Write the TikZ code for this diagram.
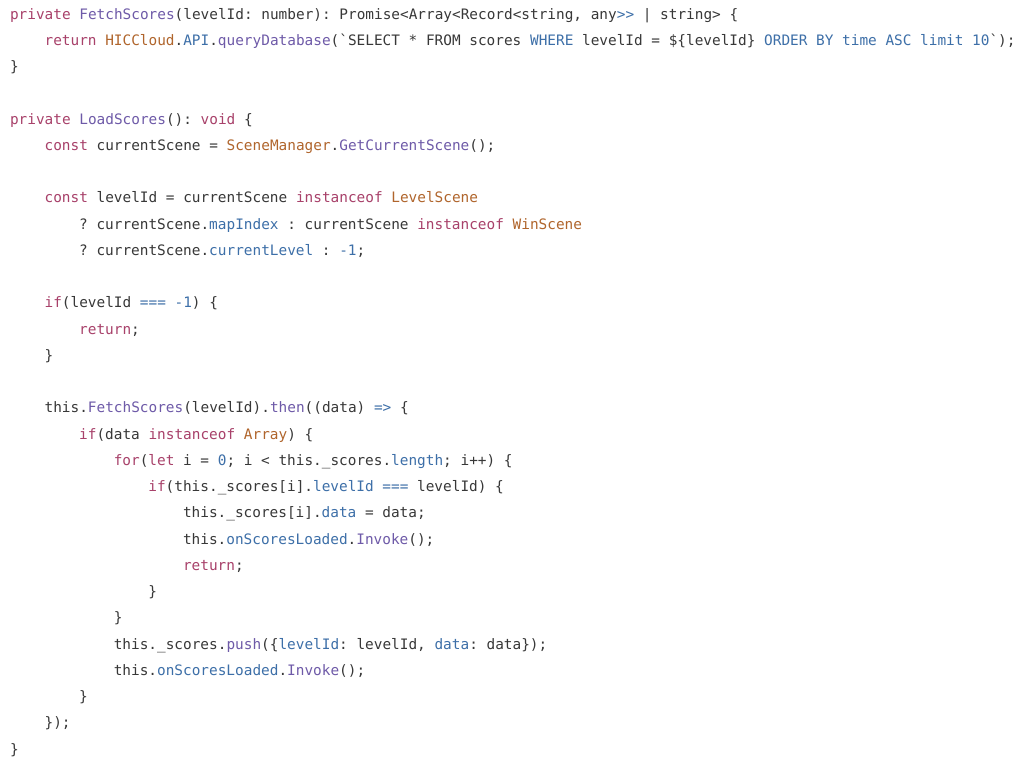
\documentclass[tikz,border=0pt]{standalone}
\usepackage{fontspec}
\newfontfamily\codefont{DejaVu Sans Mono}
\definecolor{txt}{HTML}{383838}
\definecolor{kwc}{HTML}{A8416A}
\definecolor{fnc}{HTML}{6E5AA8}
\definecolor{clc}{HTML}{B0652C}
\definecolor{prc}{HTML}{3D6FA8}
\newcommand\kw[1]{\textcolor{kwc}{#1}}
\newcommand\fn[1]{\textcolor{fnc}{#1}}
\newcommand\cls[1]{\textcolor{clc}{#1}}
\newcommand\pr[1]{\textcolor{prc}{#1}}
\newcommand\codeline[4]{\node[codetext] (#1) at ({10+#3*34.6},{19+(#2-1)*26.25}) {#4};}
\begin{document}
\frenchspacing
\begin{tikzpicture}[x=0.75pt,y=-0.75pt,
  codetext/.style={anchor=base west,inner sep=0pt,outer sep=0pt,text=txt,font=\codefont\fontsize{10.8pt}{12pt}\selectfont\frenchspacing}]
\useasboundingbox[fill=white] (0,0) rectangle (1024,769);
\codeline{l1}{1}{0}{\kw{private} \fn{FetchScores}(levelId: number): Promise<Array<Record<string, any\pr{>>} | string> \{}
\codeline{l2}{2}{1}{\kw{return} \cls{HICCloud}.\pr{API}.\fn{queryDatabase}(`SELECT * FROM scores \pr{WHERE} levelId = \$\{levelId\} \pr{ORDER BY time ASC limit 10}`);}
\codeline{l3}{3}{0}{\}}
\codeline{l5}{5}{0}{\kw{private} \fn{LoadScores}(): \kw{void} \{}
\codeline{l6}{6}{1}{\kw{const} currentScene = \cls{SceneManager}.\fn{GetCurrentScene}();}
\codeline{l8}{8}{1}{\kw{const} levelId = currentScene \kw{instanceof} \cls{LevelScene}}
\codeline{l9}{9}{2}{? currentScene.\pr{mapIndex} : currentScene \kw{instanceof} \cls{WinScene}}
\codeline{l10}{10}{2}{? currentScene.\pr{currentLevel} : \pr{-1};}
\codeline{l12}{12}{1}{\kw{if}(levelId \pr{===} \pr{-1}) \{}
\codeline{l13}{13}{2}{\kw{return};}
\codeline{l14}{14}{1}{\}}
\codeline{l16}{16}{1}{this.\fn{FetchScores}(levelId).\fn{then}((data) \pr{=>} \{}
\codeline{l17}{17}{2}{\kw{if}(data \kw{instanceof} \cls{Array}) \{}
\codeline{l18}{18}{3}{\kw{for}(\kw{let} i = \pr{0}; i < this.\_scores.\pr{length}; i++) \{}
\codeline{l19}{19}{4}{\kw{if}(this.\_scores[i].\pr{levelId} \pr{===} levelId) \{}
\codeline{l20}{20}{5}{this.\_scores[i].\pr{data} = data;}
\codeline{l21}{21}{5}{this.\pr{onScoresLoaded}.\fn{Invoke}();}
\codeline{l22}{22}{5}{\kw{return};}
\codeline{l23}{23}{4}{\}}
\codeline{l24}{24}{3}{\}}
\codeline{l25}{25}{3}{this.\_scores.\fn{push}(\{\pr{levelId}: levelId, \pr{data}: data\});}
\codeline{l26}{26}{3}{this.\pr{onScoresLoaded}.\fn{Invoke}();}
\codeline{l27}{27}{2}{\}}
\codeline{l28}{28}{1}{\});}
\codeline{l29}{29}{0}{\}}
\end{tikzpicture}
\end{document}
